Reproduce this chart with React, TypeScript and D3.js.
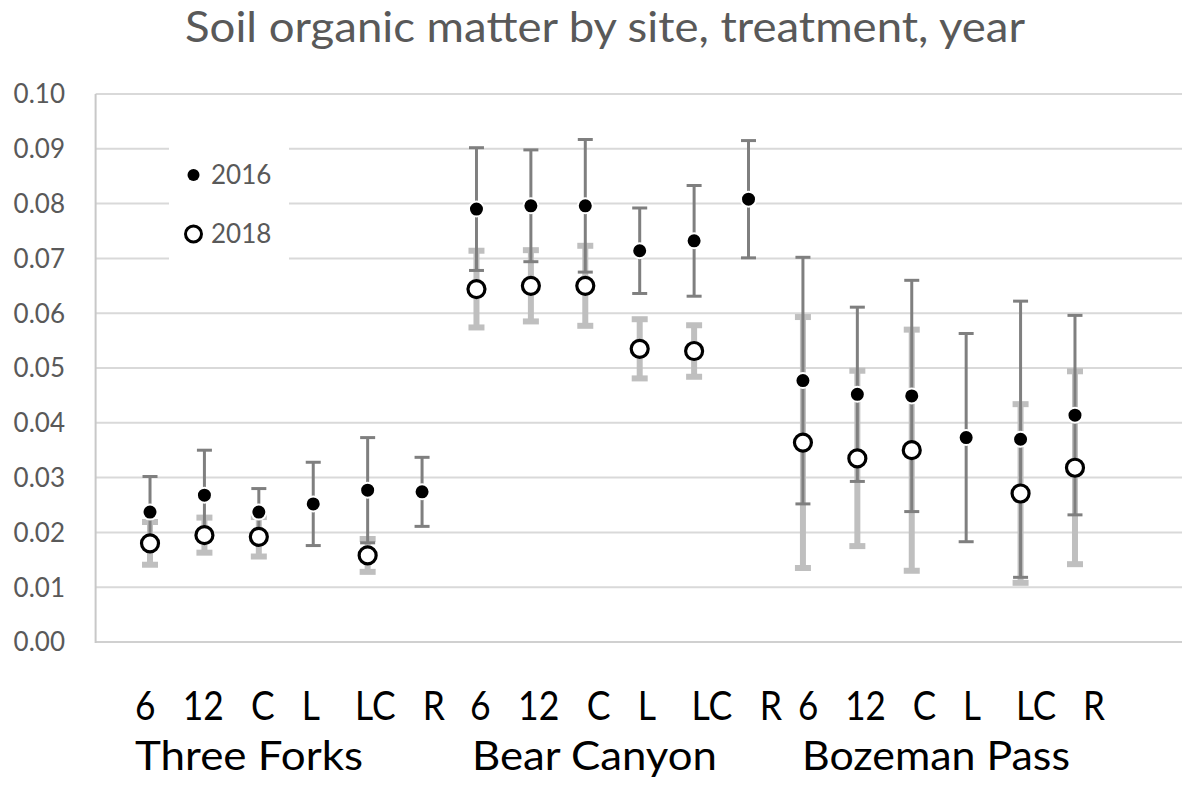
import * as d3 from "d3";
import { useRef, useEffect } from "react";

// sites and treatments along the x axis (one point per site x treatment)
const sites = ["Three Forks", "Bear Canyon", "Bozeman Pass"];
const treatments = ["6", "12", "C", "L", "LC", "R"];
const years = ["2016", "2018"];
const yTicks = [0, 0.01, 0.02, 0.03, 0.04, 0.05, 0.06, 0.07, 0.08, 0.09, 0.1];

// soil organic matter means and error bar half-widths
const som2016 = [
  0.0237, 0.0268, 0.0237, 0.0252, 0.0277, 0.0274,
  0.0790, 0.0796, 0.0796, 0.0714, 0.0732, 0.0808,
  0.0477, 0.0452, 0.0449, 0.0373, 0.0370, 0.0414,
];
const err2016 = [
  0.0065, 0.0082, 0.0043, 0.0076, 0.0096, 0.0063,
  0.0112, 0.0102, 0.0121, 0.0078, 0.0101, 0.0107,
  0.0225, 0.0159, 0.0211, 0.0190, 0.0252, 0.0182,
];
const som2018 = [
  0.0180, 0.0195, 0.0192, null, 0.0158, null,
  0.0644, 0.0650, 0.0650, 0.0535, 0.0531, null,
  0.0364, 0.0335, 0.0350, null, 0.0271, 0.0318,
];
const err2018 = [
  0.0039, 0.0032, 0.0036, null, 0.0030, null,
  0.0070, 0.0065, 0.0073, 0.0054, 0.0047, null,
  0.0229, 0.0160, 0.0220, null, 0.0163, 0.0176,
];

const FONT = "Lato, 'Open Sans', sans-serif";

function App() {
  const svgRef = useRef(null);

  useEffect(() => {
    const WIDTH = 1182;
    const HEIGHT = 786;

    const svg = d3.select(svgRef.current)
      .attr("width", WIDTH)
      .attr("height", HEIGHT);
    svg.selectAll("*").remove();

    const x = d3.scaleLinear().domain([0, 20]).range([95.6, 1183.8]);
    const y = d3.scaleLinear().domain([0, 0.1]).range([642, 94]);

    // title
    svg.append("text")
      .attr("x", 185)
      .attr("y", 42)
      .attr("textLength", 840)
      .attr("lengthAdjust", "spacingAndGlyphs")
      .style("font-family", FONT)
      .style("font-size", "43px")
      .attr("fill", "#595959")
      .text("Soil organic matter by site, treatment, year");

    // gridlines
    svg.append("g").selectAll("line")
      .data(yTicks.slice(1))
      .join("line")
      .attr("x1", x(0))
      .attr("x2", WIDTH)
      .attr("y1", d => y(d))
      .attr("y2", d => y(d))
      .attr("stroke", "#d9d9d9")
      .attr("stroke-width", 2);

    // axis lines
    svg.append("line")
      .attr("x1", x(0)).attr("x2", WIDTH)
      .attr("y1", y(0)).attr("y2", y(0))
      .attr("stroke", "#d0d0d0").attr("stroke-width", 2);
    svg.append("line")
      .attr("x1", x(0)).attr("x2", x(0))
      .attr("y1", y(0.1)).attr("y2", y(0) + 1)
      .attr("stroke", "#c8c8c8").attr("stroke-width", 2);

    // y tick labels
    svg.append("g").selectAll("text")
      .data(yTicks)
      .join("text")
      .attr("x", 65)
      .attr("y", d => y(d))
      .attr("dy", "0.36em")
      .attr("text-anchor", "end")
      .style("font-family", FONT)
      .style("font-size", "26px")
      .attr("fill", "#595959")
      .text(d => d3.format(".2f")(d));

    const points = som2016.map((v, i) => ({
      i,
      m16: v,
      e16: err2016[i],
      m18: som2018[i],
      e18: err2018[i],
    }));
    const with2018 = points.filter(p => p.m18 !== null);

    // 2018 error bars (light, wide)
    const bars18 = svg.append("g")
      .attr("stroke", "#bfbfbf")
      .attr("stroke-width", 6);
    with2018.forEach(p => {
      const cx = x(p.i + 1);
      const lo = y(p.m18 - p.e18);
      const hi = y(p.m18 + p.e18);
      bars18.append("line").attr("x1", cx).attr("x2", cx).attr("y1", lo).attr("y2", hi);
      bars18.append("line").attr("x1", cx - 8).attr("x2", cx + 8).attr("y1", lo).attr("y2", lo);
      bars18.append("line").attr("x1", cx - 8).attr("x2", cx + 8).attr("y1", hi).attr("y2", hi);
    });

    // 2016 error bars (dark, thin)
    const bars16 = svg.append("g")
      .attr("stroke", "#7f7f7f")
      .attr("stroke-width", 3);
    points.forEach(p => {
      const cx = x(p.i + 1);
      const lo = y(p.m16 - p.e16);
      const hi = y(p.m16 + p.e16);
      bars16.append("line").attr("x1", cx).attr("x2", cx).attr("y1", lo).attr("y2", hi);
      bars16.append("line").attr("x1", cx - 7.5).attr("x2", cx + 7.5).attr("y1", lo).attr("y2", lo);
      bars16.append("line").attr("x1", cx - 7.5).attr("x2", cx + 7.5).attr("y1", hi).attr("y2", hi);
    });

    // 2018 markers: open circles
    svg.append("g").selectAll("circle")
      .data(with2018)
      .join("circle")
      .attr("cx", d => x(d.i + 1))
      .attr("cy", d => y(d.m18))
      .attr("r", 8.5)
      .attr("fill", "white")
      .attr("stroke", "black")
      .attr("stroke-width", 3.2);

    // 2016 markers: filled dots
    svg.append("g").selectAll("circle")
      .data(points)
      .join("circle")
      .attr("cx", d => x(d.i + 1))
      .attr("cy", d => y(d.m16))
      .attr("r", 7.5)
      .attr("fill", "black")
      .attr("stroke", "white")
      .attr("stroke-width", 2);

    // legend
    const legend = svg.append("g");
    legend.append("rect")
      .attr("x", 169).attr("y", 122)
      .attr("width", 120).attr("height", 160)
      .attr("fill", "white");
    legend.append("circle")
      .attr("cx", 193.5).attr("cy", 175).attr("r", 6)
      .attr("fill", "black");
    legend.append("circle")
      .attr("cx", 193.5).attr("cy", 234).attr("r", 8)
      .attr("fill", "white").attr("stroke", "black").attr("stroke-width", 3);
    legend.selectAll("text")
      .data(years)
      .join("text")
      .attr("x", 211)
      .attr("y", (d, i) => i === 0 ? 175 : 234)
      .attr("dy", "0.36em")
      .style("font-family", FONT)
      .style("font-size", "26px")
      .attr("fill", "#595959")
      .text(d => d);

    // x labels: a text box under the axis, one line per site group
    const groupStart = [135, 470, 798];
    const groupWidth = [310, 312, 307];
    const siteWidth = [228, 245, 268];
    svg.append("g").selectAll("text")
      .data(sites)
      .join("text")
      .attr("x", (d, i) => groupStart[i])
      .attr("y", 720)
      .attr("textLength", (d, i) => groupWidth[i])
      .attr("lengthAdjust", "spacingAndGlyphs")
      .style("font-family", FONT)
      .style("font-size", "40px")
      .style("white-space", "pre")
      .attr("fill", "black")
      .text(treatments.join("   ").replace("L   LC", "L    LC"));
    svg.append("g").selectAll("text")
      .data(sites)
      .join("text")
      .attr("x", (d, i) => groupStart[i] + (i === 2 ? 4 : i === 1 ? 2 : 0))
      .attr("y", 770)
      .attr("textLength", (d, i) => siteWidth[i])
      .attr("lengthAdjust", "spacingAndGlyphs")
      .style("font-family", FONT)
      .style("font-size", "40px")
      .attr("fill", "black")
      .text(d => d);
  }, []);

  return (
    <svg ref={svgRef} style={{ position: "absolute", left: 0, top: 0, background: "white" }} />
  );
}

export default App;
